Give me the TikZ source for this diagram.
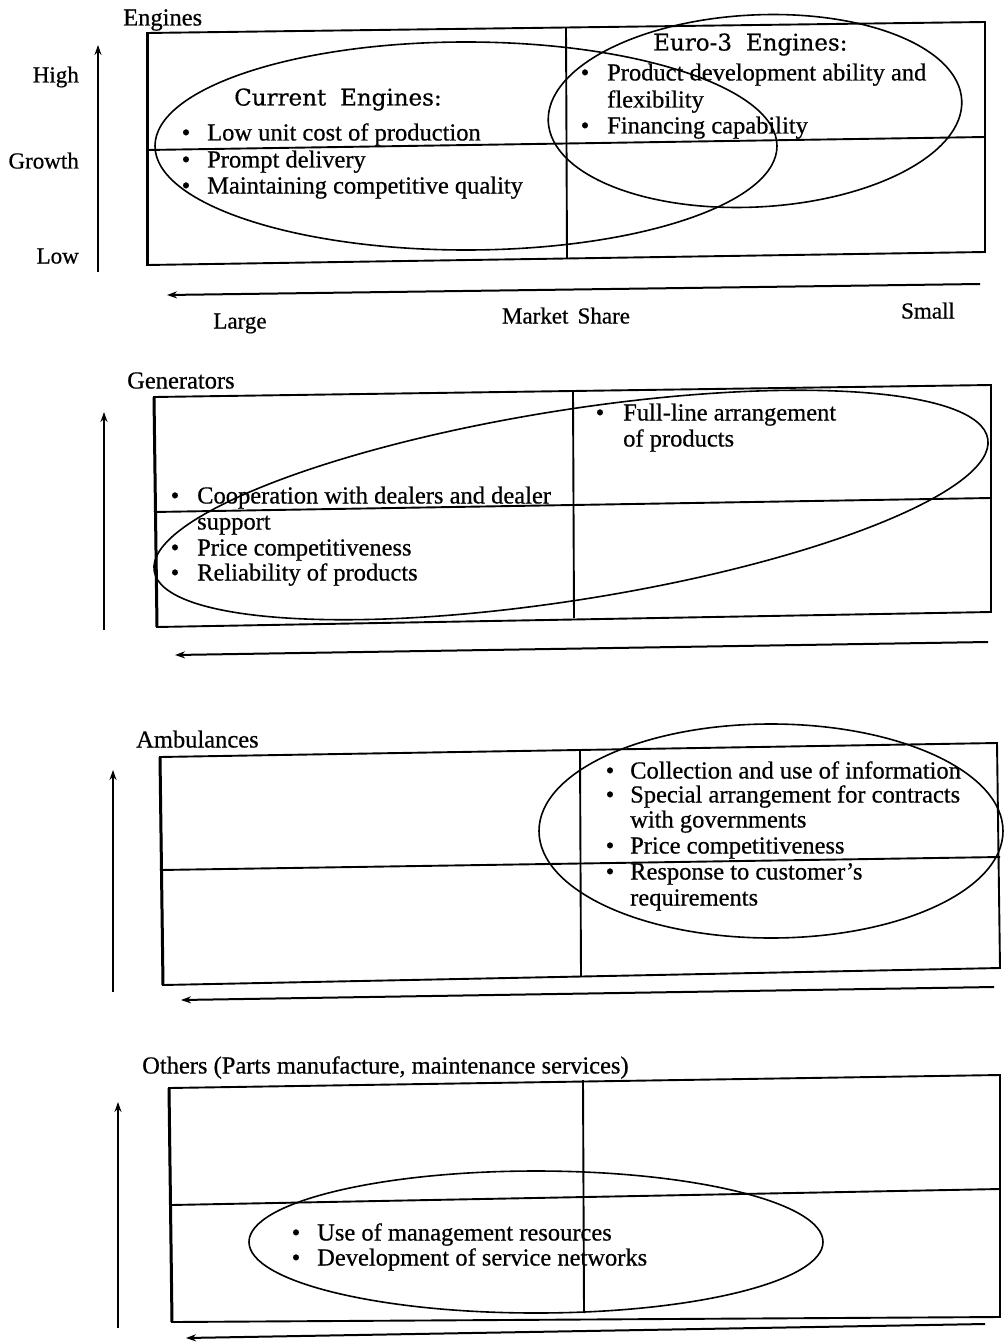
\documentclass[tikz,border=0pt]{standalone}
\usepackage{fontspec}
\setmainfont[FakeBold=0.6,AutoFakeBold=0.6]{Liberation Serif}
\newfontfamily\headfont[FakeBold=0.5,AutoFakeBold=0.5]{DejaVu Serif}
\usetikzlibrary{arrows.meta}
\begin{document}
\begin{tikzpicture}[x=1pt,y=-1pt,
  frame/.style={line width=1.9pt},
  leftedge/.style={line width=3pt},
  oval/.style={line width=1.6pt},
  axisarrow/.style={line width=2pt,-{Stealth[length=10pt,width=7pt]}},
  body/.style={font=\fontsize{24.5}{26}\selectfont, inner sep=0pt, anchor=west, text height=16pt, text depth=5pt},
  bul/.style={font=\fontsize{24.5}{26}\selectfont, inner sep=0pt, text height=16pt, text depth=5pt},
  side/.style={font=\fontsize{23}{25}\selectfont, inner sep=0pt, text height=16pt, text depth=5pt},
  head/.style={font=\headfont\fontsize{23}{25}\selectfont, inner sep=0pt, anchor=west, text height=16pt, text depth=5pt},
]
\useasboundingbox (0,0) rectangle (1006,1343);

% ---------------- Panel 1: Engines ----------------
\node[body] (t1) at (123,20) {Engines};
\draw[frame] (147,33) -- (985,22) -- (985,252) -- (147,265) -- cycle;
\draw[leftedge] (147,33) -- (147,265);
\draw[frame] (566,28) -- (567,258);
\draw[frame] (147,150) -- (985,137);
\draw[oval] (466,146) ellipse [x radius=311, y radius=104];
\draw[oval, rotate around={3:(755,111)}] (755,111) ellipse [x radius=207, y radius=96];

\coordinate (a1b) at (98,272); \coordinate (a1t) at (98,45);
\draw[axisarrow] (a1b) -- (a1t);
\coordinate (h1r) at (980,284); \coordinate (h1l) at (167,295);
\draw[axisarrow] (h1r) -- (h1l);

\node[side, anchor=east] (high) at (79,77) {High};
\node[side, anchor=east] (growth) at (79,163) {Growth};
\node[side, anchor=east] (low) at (79,258) {Low};
\node[side] (large) at (240,323) {Large};
\node[side] (ms) at (566,318) {Market\hspace{0.4em}Share};
\node[side] (small) at (928,313) {Small};

\node[head] (cur) at (234,100) {Current\hspace{0.6em}Engines:};
\node[bul] (cb1) at (186,135) {•};
\node[body] (c1) at (207,135) {Low unit cost of production};
\node[bul] (cb2) at (186,162) {•};
\node[body] (c2) at (207,162) {Prompt delivery};
\node[bul] (cb3) at (186,188) {•};
\node[body] (c3) at (207,188) {Maintaining competitive quality};

\node[head] (euro) at (653,45) {Euro-3\hspace{0.6em}Engines:};
\node[bul] (eb1) at (585,75) {•};
\node[body] (e1) at (607,75) {Product development ability and};
\node[body] (e1b) at (607,102) {flexibility};
\node[bul] (eb2) at (585,128) {•};
\node[body] (e2) at (607,128) {Financing capability};

% ---------------- Panel 2: Generators ----------------
\node[body] (t2) at (127,383) {Generators};
\draw[frame] (154,397) -- (991,385) -- (991,612) -- (157,627) -- cycle;
\draw[leftedge] (154,397) -- (157,627);
\draw[frame] (573,392) -- (574,618);
\draw[frame] (154,512) -- (991,498);
\draw[oval, rotate around={9:(571,505)}] (571,505) ellipse [x radius=422, y radius=95];

\coordinate (a2b) at (104,630); \coordinate (a2t) at (104,412);
\draw[axisarrow] (a2b) -- (a2t);
\coordinate (h2r) at (988,642); \coordinate (h2l) at (175,655);
\draw[axisarrow] (h2r) -- (h2l);

\node[bul] (gb0) at (600,415) {•};
\node[body] (g0) at (623,415) {Full-line arrangement};
\node[body] (g0b) at (623,441) {of products};
\node[bul] (gb1) at (175,498) {•};
\node[body] (g1) at (197,498) {Cooperation with dealers and dealer};
\node[body] (g1b) at (197,524) {support};
\node[bul] (gb2) at (175,550) {•};
\node[body] (g2) at (197,550) {Price competitiveness};
\node[bul] (gb3) at (175,575) {•};
\node[body] (g3) at (197,575) {Reliability of products};

% ---------------- Panel 3: Ambulances ----------------
\node[body] (t3) at (136,742) {Ambulances};
\draw[frame] (160,757) -- (997,743) -- (1000,968) -- (163,985) -- cycle;
\draw[leftedge] (160,757) -- (163,985);
\draw[frame] (580,750) -- (581,977);
\draw[frame] (160,870) -- (1000,857);
\draw[oval] (771,831) ellipse [x radius=232, y radius=107];

\coordinate (a3b) at (113,992); \coordinate (a3t) at (113,770);
\draw[axisarrow] (a3b) -- (a3t);
\coordinate (h3r) at (994,987); \coordinate (h3l) at (181,1000);
\draw[axisarrow] (h3r) -- (h3l);

\node[bul] (mb1) at (610,773) {•};
\node[body] (m1) at (630,773) {Collection and use of information};
\node[bul] (mb2) at (610,797) {•};
\node[body] (m2) at (630,797) {Special arrangement for contracts};
\node[body] (m2b) at (630,822) {with governments};
\node[bul] (mb3) at (610,848) {•};
\node[body] (m3) at (630,848) {Price competitiveness};
\node[bul] (mb4) at (610,874) {•};
\node[body] (m4) at (630,874) {Response to customer’s};
\node[body] (m4b) at (630,900) {requirements};

% ---------------- Panel 4: Others ----------------
\node[body] (t4) at (142,1068) {Others (Parts manufacture, maintenance services)};
\draw[frame] (169,1088) -- (1000,1075) -- (1000,1317) -- (172,1322) -- cycle;
\draw[leftedge] (169,1088) -- (172,1322);
\draw[frame] (583,1080) -- (584,1313);
\draw[frame] (171,1205) -- (1000,1189);
\draw[oval] (536,1242) ellipse [x radius=287, y radius=71];

\coordinate (a4b) at (118,1328); \coordinate (a4t) at (118,1102);
\draw[axisarrow] (a4b) -- (a4t);
\coordinate (h4r) at (985,1324); \coordinate (h4l) at (186,1338);
\draw[axisarrow] (h4r) -- (h4l);

\node[bul] (ob1) at (296,1235) {•};
\node[body] (o1) at (317,1235) {Use of management resources};
\node[bul] (ob2) at (296,1260) {•};
\node[body] (o2) at (317,1260) {Development of service networks};
\end{tikzpicture}
\end{document}
